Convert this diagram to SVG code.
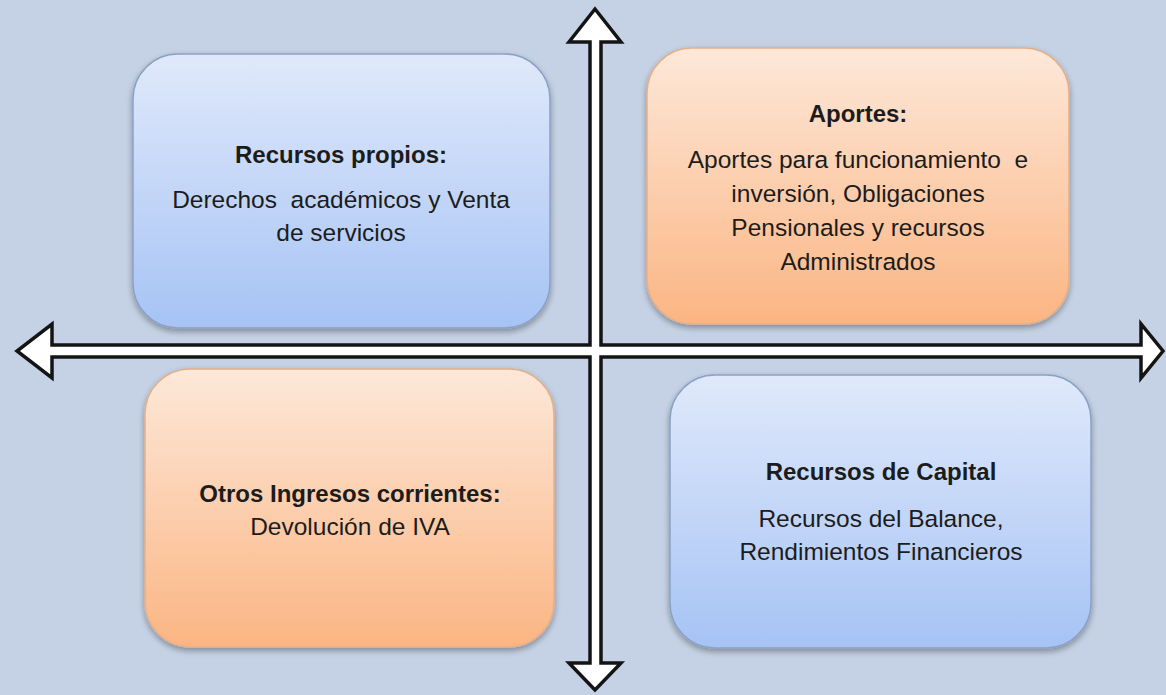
<svg xmlns="http://www.w3.org/2000/svg" width="1166" height="695" viewBox="0 0 1166 695">
  <defs>
    <linearGradient id="gBlue" x1="0" y1="0" x2="0" y2="1">
      <stop offset="0" stop-color="#e0e9fb"/>
      <stop offset="1" stop-color="#a6c3f4"/>
    </linearGradient>
    <linearGradient id="gOrange" x1="0" y1="0" x2="0" y2="1">
      <stop offset="0" stop-color="#fde8d9"/>
      <stop offset="1" stop-color="#fbb583"/>
    </linearGradient>
    <filter id="shadow" x="-10%" y="-10%" width="120%" height="125%">
      <feGaussianBlur in="SourceAlpha" stdDeviation="3"/>
      <feOffset dx="0" dy="3" result="b"/>
      <feComponentTransfer><feFuncA type="linear" slope="0.35"/></feComponentTransfer>
      <feMerge><feMergeNode/><feMergeNode in="SourceGraphic"/></feMerge>
    </filter>
  </defs>
  <style>
    .blue { fill: url(#gBlue); stroke: #8aa1c6; stroke-width: 1.5; filter: url(#shadow); }
    .orange { fill: url(#gOrange); stroke: #e3b08c; stroke-width: 1.5; filter: url(#shadow); }
    text { font-family: "Liberation Sans", Arial, sans-serif; fill: #1c1c1c; text-anchor: middle; white-space: pre; }
    .t { font-size: 24px; font-weight: bold; }
    .b { font-size: 24.5px; }
    .arrow { fill: #ffffff; stroke: #141414; stroke-width: 3.5; stroke-linejoin: miter; }
  </style>
  <rect width="1166" height="695" fill="#c5d2e5"/>

  <g id="recursos-propios">
    <rect class="blue" x="133" y="54" width="417" height="274" rx="45"/>
    <text class="t" x="341" y="163">Recursos propios:</text>
    <text class="b" x="341" y="208" xml:space="preserve">Derechos  académicos y Venta</text>
    <text class="b" x="341" y="241">de servicios</text>
  </g>

  <g id="aportes">
    <rect class="orange" x="647" y="48" width="422" height="276" rx="45"/>
    <text class="t" x="858" y="122">Aportes:</text>
    <text class="b" x="858" y="168" xml:space="preserve">Aportes para funcionamiento  e</text>
    <text class="b" x="858" y="202">inversión, Obligaciones</text>
    <text class="b" x="858" y="236">Pensionales y recursos</text>
    <text class="b" x="858" y="270">Administrados</text>
  </g>

  <g id="otros-ingresos">
    <rect class="orange" x="145" y="369" width="409" height="278" rx="45"/>
    <text class="t" x="350" y="502">Otros Ingresos corrientes:</text>
    <text class="b" x="350" y="535">Devolución de IVA</text>
  </g>

  <g id="recursos-capital">
    <rect class="blue" x="670" y="375" width="421" height="273" rx="45"/>
    <text class="t" x="881" y="480">Recursos de Capital</text>
    <text class="b" x="881" y="527">Recursos del Balance,</text>
    <text class="b" x="881" y="560">Rendimientos Financieros</text>
  </g>

  <g id="connectors">
    <path class="arrow" d="M595,9 L621,42 L601,42 L601,345 L1141,345 L1141,324 L1163,351 L1141,378 L1141,357 L601,357 L601,663 L621,663 L595,690 L569,663 L590,663 L590,357 L52,357 L52,378 L17,351 L52,324 L52,345 L590,345 L590,42 L569,42 Z"/>
  </g>
</svg>
